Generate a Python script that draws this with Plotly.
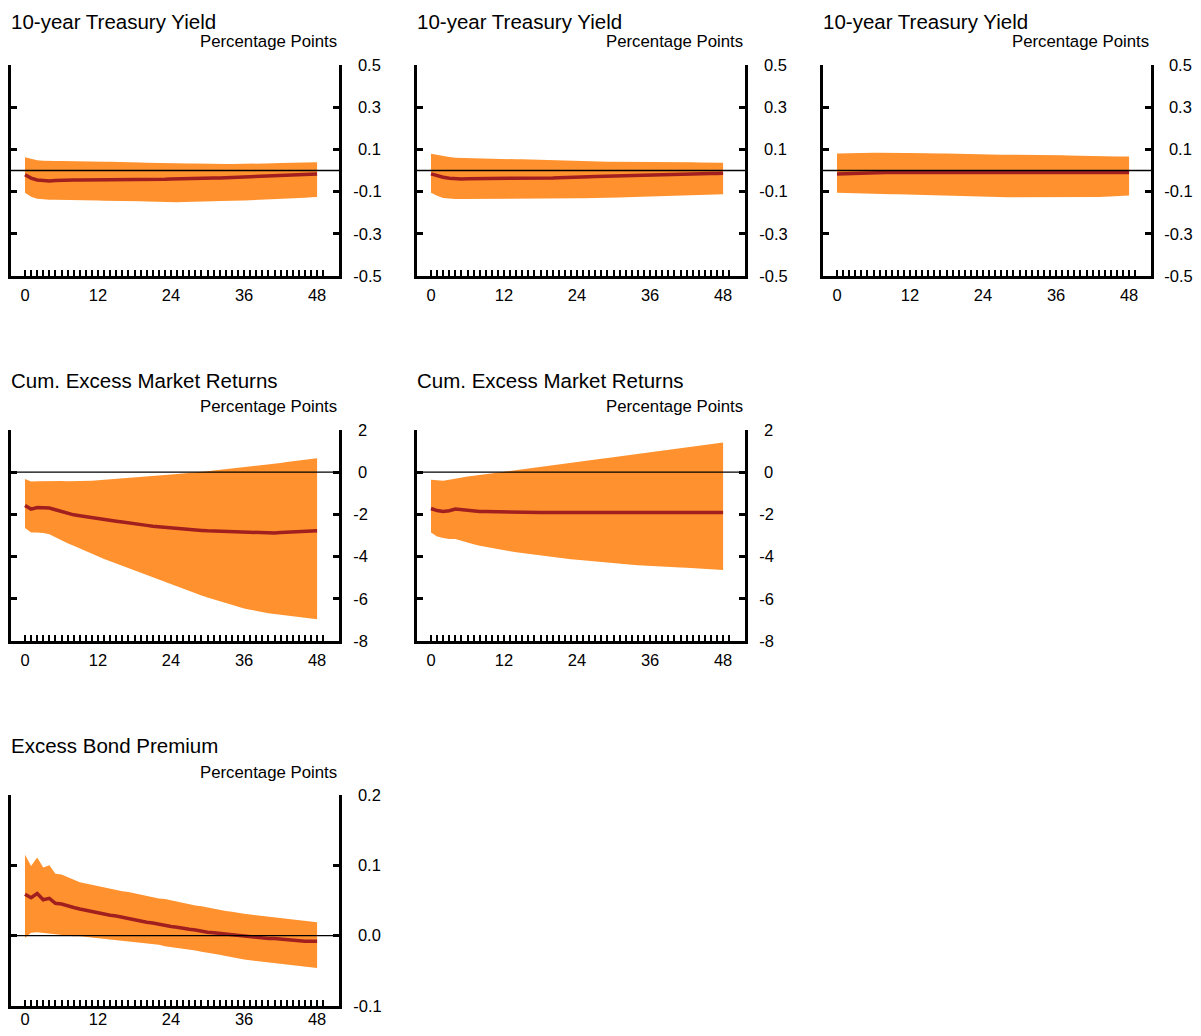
import plotly.graph_objects as go

months = list(range(49))
tick_months = list(range(50))
tick_month_text = [str(m) if m % 12 == 0 and m <= 48 else "" for m in tick_months]

# 10-year Treasury yield, three specifications
yield_a_mid = [-0.020,-0.036,-0.045,-0.048,-0.050,-0.047,-0.045,-0.045,-0.045,-0.045,-0.045,-0.045,-0.045,-0.045,-0.045,-0.045,-0.045,-0.045,-0.045,-0.044,-0.043,-0.042,-0.041,-0.041,-0.040,-0.040,-0.039,-0.039,-0.038,-0.038,-0.037,-0.036,-0.035,-0.034,-0.033,-0.032,-0.031,-0.030,-0.029,-0.028,-0.026,-0.025,-0.023,-0.022,-0.021,-0.020,-0.018,-0.017,-0.016]
yield_a_hi = [0.063,0.055,0.048,0.046,0.044,0.045,0.045,0.045,0.044,0.044,0.043,0.043,0.042,0.042,0.041,0.041,0.040,0.040,0.039,0.038,0.037,0.036,0.035,0.035,0.034,0.034,0.033,0.033,0.033,0.032,0.032,0.032,0.031,0.031,0.031,0.031,0.031,0.031,0.032,0.032,0.033,0.034,0.035,0.036,0.036,0.037,0.038,0.038,0.039]
yield_a_lo = [-0.105,-0.125,-0.134,-0.137,-0.139,-0.139,-0.139,-0.140,-0.140,-0.141,-0.141,-0.142,-0.142,-0.143,-0.143,-0.144,-0.144,-0.145,-0.145,-0.146,-0.147,-0.148,-0.149,-0.150,-0.150,-0.150,-0.149,-0.149,-0.148,-0.148,-0.147,-0.146,-0.145,-0.145,-0.144,-0.143,-0.142,-0.141,-0.140,-0.139,-0.137,-0.136,-0.134,-0.133,-0.132,-0.130,-0.129,-0.127,-0.126]

yield_b_mid = [-0.016,-0.025,-0.032,-0.037,-0.040,-0.040,-0.039,-0.039,-0.039,-0.039,-0.039,-0.039,-0.039,-0.039,-0.038,-0.038,-0.038,-0.037,-0.037,-0.036,-0.035,-0.034,-0.034,-0.033,-0.032,-0.031,-0.030,-0.029,-0.028,-0.027,-0.026,-0.025,-0.024,-0.024,-0.023,-0.022,-0.021,-0.020,-0.019,-0.019,-0.018,-0.017,-0.016,-0.016,-0.015,-0.015,-0.014,-0.014,-0.013]
yield_b_hi = [0.079,0.073,0.068,0.064,0.060,0.059,0.058,0.058,0.057,0.057,0.056,0.056,0.055,0.054,0.053,0.053,0.052,0.051,0.050,0.049,0.048,0.047,0.046,0.045,0.044,0.044,0.043,0.043,0.043,0.042,0.042,0.042,0.041,0.041,0.041,0.040,0.040,0.040,0.040,0.040,0.039,0.039,0.039,0.039,0.038,0.038,0.038,0.037,0.037]
yield_b_lo = [-0.106,-0.120,-0.130,-0.133,-0.135,-0.135,-0.135,-0.135,-0.135,-0.135,-0.135,-0.135,-0.135,-0.135,-0.135,-0.135,-0.135,-0.135,-0.135,-0.134,-0.134,-0.133,-0.133,-0.132,-0.132,-0.131,-0.131,-0.130,-0.130,-0.129,-0.129,-0.128,-0.127,-0.126,-0.125,-0.124,-0.123,-0.122,-0.121,-0.121,-0.120,-0.119,-0.118,-0.117,-0.116,-0.115,-0.115,-0.114,-0.113]

yield_c_mid = [-0.016,-0.015,-0.013,-0.012,-0.011,-0.011,-0.010,-0.010,-0.010,-0.010,-0.010,-0.010,-0.010,-0.011,-0.011,-0.012,-0.012,-0.013,-0.013,-0.014,-0.014,-0.014,-0.014,-0.014,-0.014,-0.014,-0.014,-0.014,-0.014,-0.014,-0.014,-0.014,-0.014,-0.014,-0.014,-0.014,-0.014,-0.013,-0.013,-0.012,-0.012,-0.012,-0.011,-0.011,-0.011,-0.010,-0.010,-0.010,-0.010]
yield_c_hi = [0.081,0.082,0.083,0.084,0.084,0.084,0.084,0.084,0.083,0.083,0.083,0.083,0.083,0.082,0.082,0.082,0.081,0.081,0.081,0.080,0.079,0.078,0.077,0.077,0.076,0.076,0.076,0.075,0.075,0.075,0.075,0.074,0.074,0.074,0.073,0.073,0.073,0.072,0.071,0.070,0.069,0.068,0.068,0.067,0.067,0.067,0.066,0.066,0.066]
yield_c_lo = [-0.106,-0.107,-0.108,-0.109,-0.110,-0.110,-0.111,-0.111,-0.112,-0.112,-0.112,-0.113,-0.113,-0.114,-0.115,-0.116,-0.116,-0.117,-0.118,-0.120,-0.121,-0.122,-0.124,-0.125,-0.126,-0.126,-0.127,-0.127,-0.127,-0.127,-0.127,-0.128,-0.128,-0.128,-0.129,-0.129,-0.129,-0.129,-0.129,-0.128,-0.128,-0.127,-0.127,-0.126,-0.124,-0.123,-0.122,-0.120,-0.119]

# cumulative excess market returns
mkt_a_mid = [-1.58,-1.75,-1.67,-1.68,-1.70,-1.78,-1.87,-1.95,-2.02,-2.06,-2.11,-2.15,-2.20,-2.24,-2.28,-2.32,-2.36,-2.41,-2.45,-2.49,-2.52,-2.56,-2.59,-2.62,-2.65,-2.67,-2.70,-2.72,-2.74,-2.76,-2.78,-2.79,-2.80,-2.81,-2.82,-2.83,-2.84,-2.85,-2.86,-2.88,-2.89,-2.88,-2.86,-2.85,-2.84,-2.82,-2.81,-2.80,-2.78]
mkt_a_hi = [-0.32,-0.44,-0.43,-0.42,-0.41,-0.42,-0.42,-0.43,-0.43,-0.42,-0.41,-0.40,-0.38,-0.36,-0.34,-0.31,-0.29,-0.27,-0.25,-0.23,-0.20,-0.18,-0.16,-0.13,-0.11,-0.08,-0.06,-0.03,0.00,0.02,0.05,0.08,0.11,0.15,0.18,0.22,0.25,0.28,0.31,0.34,0.37,0.41,0.44,0.48,0.51,0.55,0.58,0.62,0.66]
mkt_a_lo = [-2.65,-2.86,-2.86,-2.88,-2.94,-3.09,-3.24,-3.37,-3.49,-3.62,-3.75,-3.88,-4.00,-4.11,-4.22,-4.33,-4.44,-4.55,-4.66,-4.77,-4.88,-4.99,-5.10,-5.20,-5.31,-5.42,-5.52,-5.63,-5.73,-5.84,-5.94,-6.03,-6.12,-6.21,-6.30,-6.38,-6.46,-6.52,-6.58,-6.63,-6.68,-6.72,-6.76,-6.79,-6.83,-6.86,-6.90,-6.93,-6.97]

mkt_b_mid = [-1.72,-1.82,-1.86,-1.83,-1.75,-1.78,-1.82,-1.84,-1.86,-1.86,-1.87,-1.87,-1.88,-1.89,-1.89,-1.89,-1.90,-1.90,-1.91,-1.91,-1.91,-1.91,-1.91,-1.91,-1.91,-1.91,-1.91,-1.91,-1.91,-1.91,-1.91,-1.91,-1.91,-1.91,-1.91,-1.91,-1.91,-1.91,-1.91,-1.91,-1.91,-1.91,-1.91,-1.91,-1.91,-1.91,-1.91,-1.91,-1.91]
mkt_b_hi = [-0.36,-0.40,-0.41,-0.36,-0.30,-0.25,-0.20,-0.17,-0.13,-0.09,-0.05,-0.01,0.03,0.07,0.11,0.15,0.19,0.23,0.27,0.31,0.34,0.38,0.42,0.45,0.49,0.53,0.56,0.60,0.64,0.67,0.71,0.75,0.78,0.82,0.86,0.89,0.93,0.97,1.01,1.05,1.10,1.14,1.18,1.22,1.26,1.30,1.33,1.37,1.41]
mkt_b_lo = [-2.86,-3.05,-3.12,-3.16,-3.16,-3.25,-3.33,-3.41,-3.48,-3.54,-3.60,-3.66,-3.71,-3.75,-3.79,-3.83,-3.87,-3.91,-3.95,-3.98,-4.02,-4.05,-4.09,-4.12,-4.15,-4.18,-4.21,-4.24,-4.27,-4.30,-4.33,-4.35,-4.37,-4.39,-4.41,-4.43,-4.44,-4.46,-4.47,-4.49,-4.50,-4.52,-4.53,-4.55,-4.57,-4.58,-4.60,-4.61,-4.63]

# excess bond premium
ebp_mid = [0.059,0.054,0.060,0.051,0.053,0.046,0.045,0.042,0.040,0.038,0.036,0.035,0.033,0.031,0.029,0.028,0.026,0.024,0.023,0.021,0.019,0.018,0.016,0.015,0.013,0.012,0.010,0.009,0.008,0.006,0.005,0.004,0.003,0.002,0.001,0.001,0.000,-0.001,-0.002,-0.003,-0.004,-0.004,-0.005,-0.006,-0.007,-0.007,-0.008,-0.008,-0.008]
ebp_hi = [0.115,0.099,0.111,0.097,0.100,0.088,0.087,0.083,0.079,0.076,0.074,0.072,0.070,0.068,0.067,0.065,0.063,0.062,0.060,0.058,0.057,0.055,0.053,0.052,0.050,0.048,0.047,0.045,0.043,0.042,0.040,0.038,0.037,0.035,0.034,0.032,0.031,0.030,0.029,0.028,0.027,0.026,0.025,0.024,0.023,0.022,0.021,0.020,0.019]
ebp_lo = [-0.003,0.004,0.005,0.004,0.003,0.002,0.000,0.000,-0.001,-0.001,-0.002,-0.002,-0.003,-0.004,-0.005,-0.006,-0.007,-0.008,-0.009,-0.010,-0.011,-0.012,-0.013,-0.015,-0.016,-0.017,-0.019,-0.020,-0.021,-0.023,-0.024,-0.026,-0.027,-0.029,-0.031,-0.032,-0.034,-0.035,-0.036,-0.037,-0.038,-0.039,-0.040,-0.041,-0.042,-0.043,-0.044,-0.045,-0.046]

# positive labels get a punctuation space in front so the column lines up on the right
yield_ticks = [-0.5, -0.3, -0.1, 0.1, 0.3, 0.5]
yield_ticktext = ["-0.5", "-0.3", "-0.1", "\u20080.1", "\u20080.3", "\u20080.5"]
mkt_ticks = [-8, -6, -4, -2, 0, 2]
mkt_ticktext = ["-8", "-6", "-4", "-2", "\u20080", "\u20082"]
ebp_ticks = [-0.1, 0.0, 0.1, 0.2]
ebp_ticktext = ["-0.1", "\u20080.0", "\u20080.1", "\u20080.2"]

titles = ["10-year Treasury Yield", "10-year Treasury Yield", "10-year Treasury Yield",
          "Cum. Excess Market Returns", "Cum. Excess Market Returns", "Excess Bond Premium"]

panels = [
    # (col, row, mid, hi, lo, yrange, ticks, ticktext)
    (0, 0, yield_a_mid, yield_a_hi, yield_a_lo, [-0.5, 0.5], yield_ticks, yield_ticktext),
    (1, 0, yield_b_mid, yield_b_hi, yield_b_lo, [-0.5, 0.5], yield_ticks, yield_ticktext),
    (2, 0, yield_c_mid, yield_c_hi, yield_c_lo, [-0.5, 0.5], yield_ticks, yield_ticktext),
    (0, 1, mkt_a_mid, mkt_a_hi, mkt_a_lo, [-8, 2], mkt_ticks, mkt_ticktext),
    (1, 1, mkt_b_mid, mkt_b_hi, mkt_b_lo, [-8, 2], mkt_ticks, mkt_ticktext),
    (0, 2, ebp_mid, ebp_hi, ebp_lo, [-0.1, 0.2], ebp_ticks, ebp_ticktext),
]

# page body has an 8px margin, so the figure is a bit smaller and everything shifted by it
OFF = 8
W, H = 1201 - 2 * OFF, 1036 - 2 * OFF
BAND = "#FF922E"
LINE = "#A11F1F"
FONT = "Liberation Sans, Arial, Helvetica, sans-serif"

fig = go.Figure()
annotations = []
shapes = []

for i, (col, row, mid, hi, lo, yr, yt, ytt) in enumerate(panels):
    for s in (mid, hi, lo):
        assert len(s) == len(months), (i, len(s))
    n = "" if i == 0 else str(i + 1)
    xa, ya = "x" + n, "y" + n
    left = 11 + 406 * col - OFF
    right = 339 + 406 * col - OFF
    top = 65 + 365 * row - OFF
    bottom = 276 + 365 * row - OFF

    fig.add_trace(go.Scatter(x=months, y=lo, xaxis=xa, yaxis=ya, mode="lines",
                             line=dict(width=0, color=BAND), hoverinfo="skip", showlegend=False))
    fig.add_trace(go.Scatter(x=months, y=hi, xaxis=xa, yaxis=ya, mode="lines", fill="tonexty",
                             fillcolor=BAND, line=dict(width=0, color=BAND), hoverinfo="skip",
                             showlegend=False))
    fig.add_trace(go.Scatter(x=months, y=mid, xaxis=xa, yaxis=ya, mode="lines",
                             line=dict(width=3.5, color=LINE), showlegend=False))

    fig.layout["xaxis" + n] = dict(
        domain=[left / W, right / W], anchor=ya, range=[-2.3, 51.6], automargin=False,
        showline=True, linecolor="black", linewidth=3, showgrid=False, zeroline=False,
        tickmode="array", tickvals=tick_months, ticktext=tick_month_text,
        ticks="inside", ticklen=6, tickwidth=2, tickcolor="black",
        tickfont=dict(family=FONT, size=16.5, color="black"),
        # bottom row sits right at the page edge, keep its labels inside
        ticklabelstandoff=2 if row < 2 else -4,
    )
    fig.layout["yaxis" + n] = dict(
        domain=[1 - bottom / H, 1 - top / H], anchor=xa, range=yr, side="right",
        automargin=False, showline=True, mirror="ticks", linecolor="black", linewidth=3,
        showgrid=False, zeroline=False,
        tickmode="array", tickvals=yt, ticktext=ytt,
        ticks="inside", ticklen=6, tickwidth=3, tickcolor="black",
        tickfont=dict(family=FONT, size=16.5, color="black"),
        ticklabelstandoff=8 if col < 2 else 7,
    )
    shapes.append(dict(type="line", xref=xa + " domain", yref=ya, x0=0, x1=1, y0=0, y1=0,
                       line=dict(color="black", width=1.3), layer="above"))
    if row == 0:
        # top row titles touch the top edge, pin them there instead
        title_pos = dict(y=1, yanchor="top")
    else:
        title_pos = dict(y=1 - (top - 49.5) / H, yanchor="middle")
    annotations.append(dict(text=titles[i], xref="paper", yref="paper",
                            x=(left - 2) / W, xanchor="left", showarrow=False,
                            font=dict(family=FONT, size=20.5, color="black"), **title_pos))
    annotations.append(dict(text="Percentage Points", xref="paper", yref="paper",
                            x=right / W, y=1 - (top - 23) / H,
                            xanchor="right", yanchor="middle", showarrow=False,
                            font=dict(family=FONT, size=16.8, color="black")))

fig.update_layout(
    width=W, height=H, margin=dict(l=0, r=0, t=0, b=0),
    paper_bgcolor="white", plot_bgcolor="white",
    annotations=annotations, shapes=shapes, showlegend=False,
)

fig.write_html("out.html")
